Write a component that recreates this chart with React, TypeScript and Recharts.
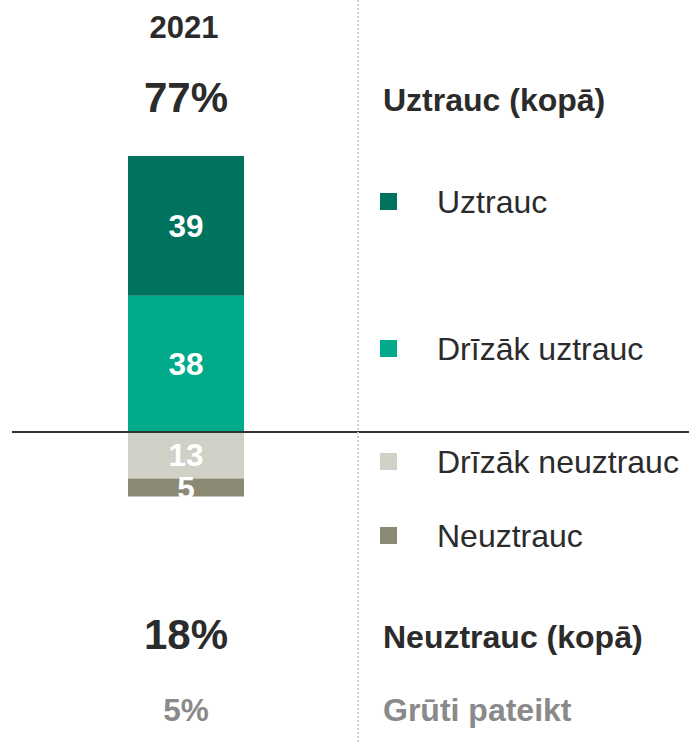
import React from "react";
import { BarChart, Bar, XAxis, YAxis, ReferenceLine, LabelList } from "recharts";

const categories = ["2021"];
const seriesNames = ["Uztrauc", "Drīzāk uztrauc", "Drīzāk neuztrauc", "Neuztrauc"];
const uztrauc = [39];
const drizakUztrauc = [38];
const drizakNeuztrauc = [13];
const neuztrauc = [5];
const gruti = [5];
const totalLabels = ["Uztrauc (kopā)", "Neuztrauc (kopā)", "Grūti pateikt"];

const COLORS: Record<string, string> = {
  Uztrauc: "#00735e",
  "Drīzāk uztrauc": "#00aa8b",
  "Drīzāk neuztrauc": "#d0d0c7",
  Neuztrauc: "#8a8a74",
};

const W = 689;
const H = 743;
const FONT = "'Liberation Sans', Arial, sans-serif";
const DARK = "#2b2b2b";
const GREY = "#8a8a8a";

// legend rows, y centre of each entry
const legendY = [202, 349, 462, 536];

const data = categories.map((c, i) => ({
  name: c,
  uztrauc: uztrauc[i],
  drizakUztrauc: drizakUztrauc[i],
  drizakNeuztrauc: -drizakNeuztrauc[i],
  neuztrauc: -neuztrauc[i],
}));

const posTotal = uztrauc[0] + drizakUztrauc[0];
const negTotal = drizakNeuztrauc[0] + neuztrauc[0];

const absFmt = (v: any) => Math.abs(Number(v));

const labelStyle = { fill: "#fff", fontSize: 31.5, fontWeight: 700, fontFamily: FONT };

export default function App() {
  return (
    <div style={{ position: "absolute", left: 0, top: 0, width: W, height: H, background: "#fff" }}>
      <BarChart
        width={W}
        height={H}
        data={data}
        stackOffset="sign"
        margin={{ top: 73.56, right: 0, bottom: 24.24, left: 12 }}
      >
        <XAxis dataKey="name" hide padding={{ left: 0, right: 329 }} />
        <YAxis hide domain={[-80, 100]} allowDataOverflow />
        <Bar dataKey="drizakUztrauc" stackId="a" fill={COLORS["Drīzāk uztrauc"]} barSize={116} isAnimationActive={false}>
          <LabelList dataKey="drizakUztrauc" position="center" formatter={absFmt} style={labelStyle} />
        </Bar>
        <Bar dataKey="uztrauc" stackId="a" fill={COLORS["Uztrauc"]} barSize={116} isAnimationActive={false}>
          <LabelList dataKey="uztrauc" position="center" formatter={absFmt} style={labelStyle} />
        </Bar>
        <Bar dataKey="drizakNeuztrauc" stackId="a" fill={COLORS["Drīzāk neuztrauc"]} barSize={116} isAnimationActive={false}>
          <LabelList dataKey="drizakNeuztrauc" position="center" formatter={absFmt} style={labelStyle} />
        </Bar>
        <Bar dataKey="neuztrauc" stackId="a" fill={COLORS["Neuztrauc"]} barSize={116} isAnimationActive={false}>
          <LabelList dataKey="neuztrauc" position="center" formatter={absFmt} style={labelStyle} />
        </Bar>
        <ReferenceLine y={0} stroke="#333" strokeWidth={2} />
      </BarChart>
      <svg
        width={W}
        height={H}
        style={{ position: "absolute", left: 0, top: 0, pointerEvents: "none", fontFamily: FONT }}
      >
        <line x1={358} y1={0} x2={358} y2={H} stroke="#cfcfcf" strokeWidth={2} strokeDasharray="2 2" />
        <text x={184} y={27} textAnchor="middle" dominantBaseline="central" fontSize={31} fontWeight={700} fill={DARK}>
          {categories[0]}
        </text>
        <text x={186} y={97} textAnchor="middle" dominantBaseline="central" fontSize={42} fontWeight={700} fill={DARK}>
          {posTotal}%
        </text>
        <text x={383} y={100} dominantBaseline="central" fontSize={32} fontWeight={700} fill={DARK}>
          {totalLabels[0]}
        </text>
        {seriesNames.map((n, i) => (
          <g key={n}>
            <rect x={380} y={legendY[i] - 9} width={17} height={17} fill={COLORS[n]} />
            <text x={437} y={legendY[i]} dominantBaseline="central" fontSize={32} fill={DARK}>
              {n}
            </text>
          </g>
        ))}
        <text x={186} y={634} textAnchor="middle" dominantBaseline="central" fontSize={42} fontWeight={700} fill={DARK}>
          {negTotal}%
        </text>
        <text x={383} y={637} dominantBaseline="central" fontSize={32} fontWeight={700} fill={DARK}>
          {totalLabels[1]}
        </text>
        <text x={186} y={710} textAnchor="middle" dominantBaseline="central" fontSize={31.5} fontWeight={700} fill={GREY}>
          {gruti[0]}%
        </text>
        <text x={383} y={710} dominantBaseline="central" fontSize={32} fontWeight={700} fill={GREY}>
          {totalLabels[2]}
        </text>
      </svg>
    </div>
  );
}
